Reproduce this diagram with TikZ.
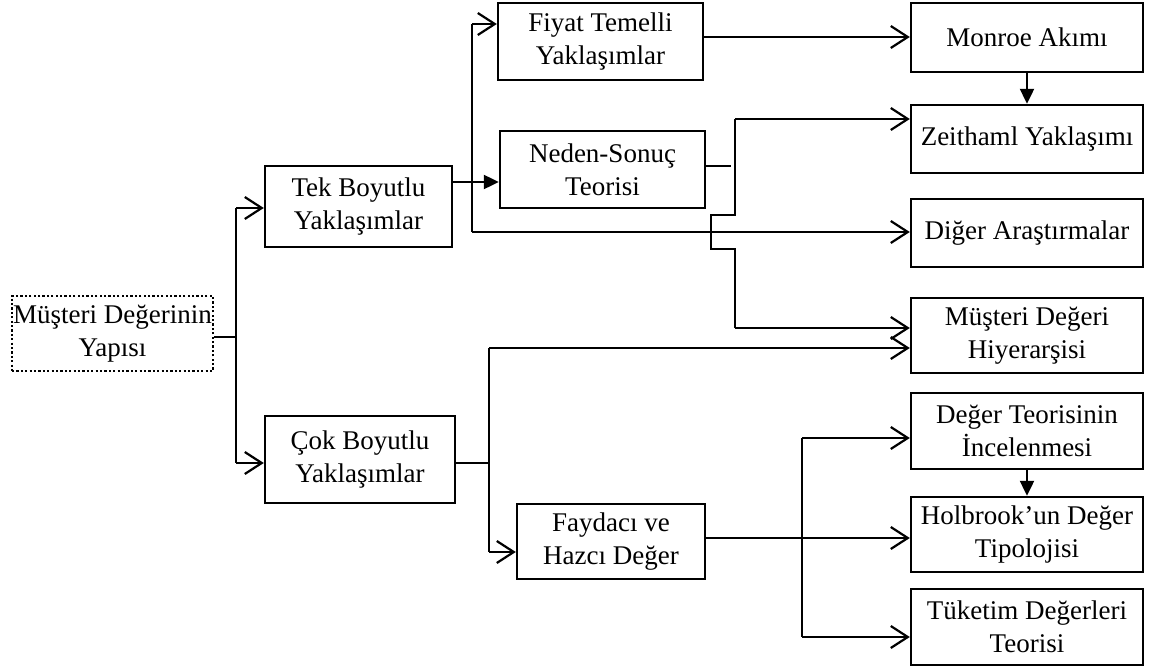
\documentclass[tikz,border=0pt]{standalone}
\usepackage{fontspec}
\setmainfont{Liberation Serif}
\usetikzlibrary{arrows.meta}
\begin{document}
\begin{tikzpicture}[x=1pt,y=-1pt,
  box/.style={draw,line width=2.4pt,align=center,inner sep=0pt,
    font=\fontsize{27}{33}\selectfont},
  rootbox/.style={box,dash pattern=on 2.2pt off 2.2pt},
  link/.style={line width=2.2pt},
  open/.style={link,-{Straight Barb[length=17pt,width=22pt]}},
  filled/.style={link,-{Triangle[length=15pt,width=14pt]}}]
\useasboundingbox (0,0) rectangle (1154,669);

% boxes
\node[rootbox,minimum width=201pt,minimum height=75pt] (root) at (112.5,333.5) {Müşteri Değerinin\\Yapısı};
\node[box,minimum width=187pt,minimum height=81pt] (tek) at (358.5,206.5) {Tek Boyutlu\\Yaklaşımlar};
\node[box,minimum width=190pt,minimum height=87pt] (cok) at (360,459.5) {Çok Boyutlu\\Yaklaşımlar};
\node[box,minimum width=205pt,minimum height=77pt] (fiyat) at (600.5,41.5) {Fiyat Temelli\\Yaklaşımlar};
\node[box,minimum width=205pt,minimum height=77pt] (neden) at (602.5,169.5) {Neden-Sonuç\\Teorisi};
\node[box,minimum width=188pt,minimum height=75pt] (fayda) at (611,541.5) {Faydacı ve\\Hazcı Değer};
\node[box,minimum width=232pt,minimum height=69pt] (monroe) at (1027,37.5) {Monroe Akımı};
\node[box,minimum width=232pt,minimum height=68pt] (zeit) at (1027,139) {Zeithaml Yaklaşımı};
\node[box,minimum width=232pt,minimum height=68pt] (diger) at (1027,233) {Diğer Araştırmalar};
\node[box,minimum width=232pt,minimum height=75pt] (hiyer) at (1027,335.5) {Müşteri Değeri\\Hiyerarşisi};
\node[box,minimum width=232pt,minimum height=76pt] (deger) at (1027,431) {Değer Teorisinin\\İncelenmesi};
\node[box,minimum width=232pt,minimum height=75pt] (holb) at (1027,534.5) {Holbrook’un Değer\\Tipolojisi};
\node[box,minimum width=232pt,minimum height=76pt] (tuket) at (1027,627) {Tüketim Değerleri\\Teorisi};

% junction points
\coordinate (j0) at (236,337);
\coordinate (c1) at (236,208);
\coordinate (c2) at (236,463);
\coordinate (t0) at (472,182);
\coordinate (t1) at (472,24);
\coordinate (t2) at (472,232);
\coordinate (y0) at (703,37);
\coordinate (n0) at (731,166);
\coordinate (z1) at (735,119);
\coordinate (k1) at (735,215);
\coordinate (k2) at (711,215);
\coordinate (k3) at (711,249);
\coordinate (k4) at (735,249);
\coordinate (m1) at (735,328);
\coordinate (p0) at (489,463);
\coordinate (p1) at (489,348);
\coordinate (p2) at (489,552);
\coordinate (f0) at (802,538);
\coordinate (f1) at (802,438);
\coordinate (f2) at (802,637);

% root split
\draw[link] (root.east |- j0) -- (j0);
\draw[link] (c1) -- (c2);
\draw[open] (c1) -- (tek.west |- c1);
\draw[open] (c2) -- (cok.west |- c2);

% single-dimension branch
\draw[link] (tek.east |- t0) -- (t0);
\draw[filled] (t0) -- (neden.west |- t0);
\draw[link] (t1) -- (t2);
\draw[open] (t1) -- (fiyat.west |- t1);
\draw[open] (t2) -- (diger.west |- t2);
\draw[open] (fiyat.east |- y0) -- (monroe.west |- y0);
\draw[filled] (monroe.south) -- (zeit.north);

% cause-effect branch
\draw[link] (neden.east |- n0) -- (n0);
\draw[link] (m1) -- (k4) -- (k3) -- (k2) -- (k1) -- (z1);
\draw[open] (z1) -- (zeit.west |- z1);
\draw[open] (m1) -- (hiyer.west |- m1);

% multi-dimension branch
\draw[link] (cok.east |- p0) -- (p0);
\draw[link] (p1) -- (p2);
\draw[open] (p1) -- (hiyer.west |- p1);
\draw[open] (p2) -- (fayda.west |- p2);

% utilitarian / hedonic branch
\draw[open] (fayda.east |- f0) -- (holb.west |- f0);
\draw[link] (f1) -- (f2);
\draw[open] (f1) -- (deger.west |- f1);
\draw[open] (f2) -- (tuket.west |- f2);
\draw[filled] (deger.south) -- (holb.north);
\end{tikzpicture}
\end{document}
